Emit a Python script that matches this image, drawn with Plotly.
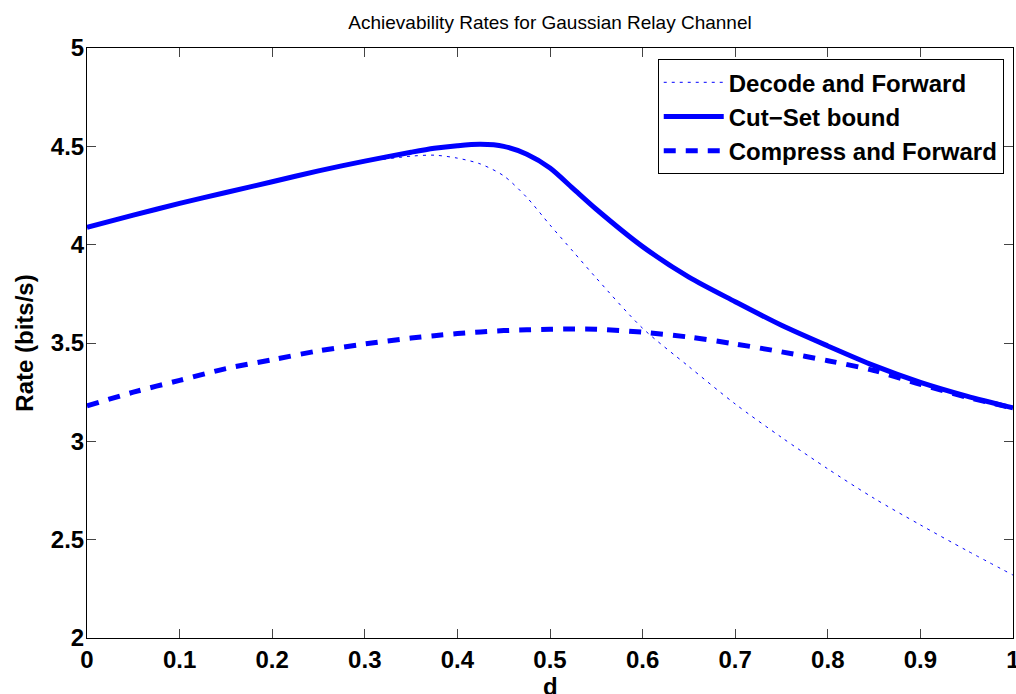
import plotly.graph_objects as go

d = [0.0, 0.05, 0.1, 0.15, 0.2, 0.25, 0.3, 0.35, 0.375, 0.4, 0.425, 0.45, 0.475, 0.5,
     0.525, 0.55, 0.6, 0.65, 0.7, 0.75, 0.8, 0.85, 0.9, 0.95, 1.0]

decode_forward = [4.088, 4.15, 4.21, 4.265, 4.32, 4.37, 4.42, 4.45, 4.455, 4.44, 4.41, 4.35, 4.24, 4.1,
                  3.965, 3.83, 3.575, 3.38, 3.19, 3.02, 2.86, 2.71, 2.575, 2.445, 2.32]

cut_set = [4.088, 4.15, 4.21, 4.265, 4.32, 4.375, 4.425, 4.47, 4.49, 4.503, 4.51, 4.5, 4.46, 4.39,
           4.285, 4.18, 3.99, 3.835, 3.71, 3.59, 3.485, 3.385, 3.30, 3.23, 3.17]

compress_forward = [3.18, 3.25, 3.31, 3.37, 3.415, 3.46, 3.495, 3.525, 3.537, 3.548, 3.556, 3.563, 3.567, 3.57,
                    3.571, 3.57, 3.555, 3.53, 3.495, 3.455, 3.41, 3.36, 3.29, 3.225, 3.17]

x_ticks = [0, 0.1, 0.2, 0.3, 0.4, 0.5, 0.6, 0.7, 0.8, 0.9, 1]
x_tick_text = ["0", "0.1", "0.2", "0.3", "0.4", "0.5", "0.6", "0.7", "0.8", "0.9", "1"]
y_ticks = [2, 2.5, 3, 3.5, 4, 4.5, 5]
y_tick_text = ["2", "2.5", "3", "3.5", "4", "4.5", "5"]

FONT = "Liberation Sans, Arial, Helvetica, sans-serif"
BLUE = "#0000ff"

fig = go.Figure()
fig.add_trace(go.Scatter(x=d, y=decode_forward, mode="lines", name="Decode and Forward",
                         line=dict(color=BLUE, width=1, dash="3px,5px", shape="spline", smoothing=0.8)))
fig.add_trace(go.Scatter(x=d, y=cut_set, mode="lines", name="Cut\u2212Set bound",
                         line=dict(color=BLUE, width=5, shape="spline", smoothing=0.8)))
fig.add_trace(go.Scatter(x=d, y=compress_forward, mode="lines", name="Compress and Forward",
                         line=dict(color=BLUE, width=5, dash="12px,10px", shape="spline", smoothing=0.8)))

axis_common = dict(showline=True, linecolor="black", linewidth=1, mirror="ticks",
                   ticks="inside", ticklen=9, tickcolor="#444444", tickwidth=1,
                   showgrid=False, zeroline=False, ticklabeloverflow="allow",
                   tickfont=dict(family=FONT, size=24, color="black", weight="bold"))

fig.update_xaxes(range=[0, 1], tickvals=x_ticks, ticktext=x_tick_text,
                 ticklabelstandoff=0,
                 **axis_common)
fig.update_yaxes(range=[2, 5], tickvals=y_ticks, ticktext=y_tick_text,
                 ticklabelstandoff=-3,
                 title=dict(text="Rate (bits/s)", font=dict(family=FONT, size=24, color="black", weight="bold"),
                            standoff=10),
                 **axis_common)

# x-axis title placed as annotation so it can sit at the bottom edge like the reference
fig.add_annotation(text="d", xref="paper", yref="paper", x=0.5, y=-(671 - 638) / 590,
                   xanchor="center", yanchor="top", showarrow=False,
                   font=dict(family=FONT, size=24, color="black", weight="bold"))

fig.update_layout(
    width=1016, height=694,
    margin=dict(l=87, r=3, t=48, b=56, autoexpand=False),
    plot_bgcolor="white", paper_bgcolor="white",
    title=dict(text="Achievability Rates for Gaussian Relay Channel",
               font=dict(family=FONT, size=19, color="black"),
               x=(87 + 1013) / 2 / 1016, xanchor="center",
               y=1 - 22 / 694, yanchor="middle", yref="container"),
    legend=dict(x=0.990, y=0.981, xanchor="right", yanchor="top",
                bgcolor="white", bordercolor="black", borderwidth=1,
                font=dict(family=FONT, size=24, color="black", weight="bold"),
                tracegroupgap=0, itemwidth=60),
    showlegend=True,
)

fig.write_html("out.html")
